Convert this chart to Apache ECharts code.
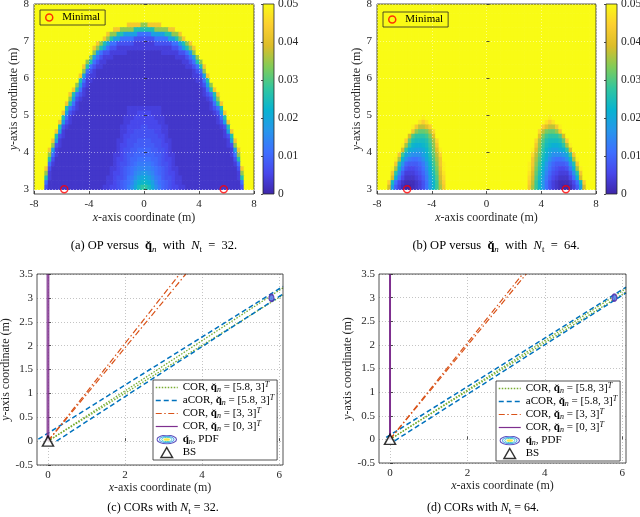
<!DOCTYPE html>
<html>
<head>
<meta charset="utf-8">
<script src="https://cdn.jsdelivr.net/npm/echarts@6.0.0/dist/echarts.min.js"></script>
<style>
html,body{margin:0;padding:0;background:#ffffff;}
#chart{width:640px;height:517px;}
</style>
</head>
<body>
<div id="chart"></div>
<script>
// ======================= DATA =======================
// Heat-map cell grid (x: -8..8 step 0.25, y: 8..3 step 0.125, rows listed top -> bottom)
const cellW = 0.25, cellH = 0.125;
const cellX = []; for (let j = 0; j < 64; j++) cellX.push(-7.875 + j * cellW);
const cellY = []; for (let i = 0; i < 40; i++) cellY.push(7.9375 - i * cellH);
// OP level per cell, run-length coded: <level char base36><count>; value = level/35*0.05
const opA_rows = [
'z64','z64','z64','z64',
'z27 u4 o2 u4 z27',
'z23 u2 o4 i6 o4 u2 z23',
'z21 u1 o2 i2 d4 84 d4 i2 o2 u1 z21',
'z20 u1 o1 i1 d2 84 56 84 d2 i1 o1 u1 z20',
'z18 u1 o1 i1 d1 82 55 36 55 82 d1 i1 o1 u1 z18',
'z17 u1 o1 i1 d1 81 52 316 52 81 d1 i1 o1 u1 z17',
'z17 o1 d1 81 52 35 210 35 52 81 d1 o1 z17',
'z16 o1 d1 81 51 33 218 33 51 81 d1 o1 z16',
'z15 o1 i1 81 51 32 222 32 51 81 i1 o1 z15',
'z14 u1 i1 81 51 32 224 32 51 81 i1 u1 z14',
'z14 o1 81 51 31 228 31 51 81 o1 z14',
'z13 u1 d1 51 32 228 32 51 d1 u1 z13',
'z13 i1 81 32 230 32 81 i1 z13',
'z12 o1 d1 51 31 232 31 51 d1 o1 z12',
'z11 u1 i1 81 31 234 31 81 i1 u1 z11',
'z10 u1 i1 81 51 31 234 31 51 81 i1 u1 z10',
'z10 o1 d1 51 31 236 31 51 d1 o1 z10',
'z9 u1 i1 81 31 238 31 81 i1 u1 z9',
'z9 i1 81 51 31 214 310 214 31 51 81 i1 z9',
'z8 u1 d1 51 31 215 33 44 33 215 31 51 d1 u1 z8',
'z8 i1 81 31 215 33 46 33 215 31 81 i1 z8',
'z7 u1 d1 51 31 215 32 48 32 215 31 51 d1 u1 z7',
'z7 i1 51 31 215 32 44 52 44 32 215 31 51 i1 z7',
'z6 u1 d1 31 216 32 42 56 42 32 216 31 d1 u1 z6',
'z6 i1 51 31 216 31 42 58 42 31 216 31 51 i1 z6',
'z5 u1 d1 31 216 32 41 53 64 53 41 32 216 31 d1 u1 z5',
'z5 o1 51 31 216 31 42 52 66 52 42 31 216 31 51 o1 z5',
'z4 u1 d1 31 217 31 41 52 62 74 62 52 41 31 217 31 d1 u1 z4',
'z4 o1 81 31 216 32 41 51 62 76 62 51 41 32 216 31 81 o1 z4',
'z4 i1 51 217 31 42 51 61 72 84 72 61 51 42 31 217 51 i1 z4',
'z4 81 31 217 31 41 52 61 71 81 94 81 71 61 52 41 31 217 31 81 z4',
'z3 u1 51 217 32 41 51 61 71 81 91 a4 91 81 71 61 51 41 32 217 51 u1 z3',
'z3 o1 31 217 31 42 51 61 71 81 a1 b1 c2 b1 a1 81 71 61 51 42 31 217 31 o1 z3',
'z3 i1 31 216 32 41 52 61 81 91 b1 d1 e2 d1 b1 91 81 61 52 41 32 216 31 i1 z3',
'z3 81 217 32 41 51 61 71 81 a1 d1 f1 g2 f1 d1 a1 81 71 61 51 41 32 217 81 z3',
'z3 51 216 32 42 51 61 71 91 b1 e1 h1 j2 h1 e1 b1 91 71 61 51 42 32 216 51 z3'
];
const opB_rows = [
'z64','z64','z64','z64','z64','z64','z64','z64','z64','z64','z64','z64',
'z64','z64','z64','z64','z64','z64','z64','z64','z64','z64','z64','z64',
'z13 y1 z36 y1 z13',
'z12 x1 v1 x1 z34 x1 v1 x1 z12',
'z10 y1 u1 q2 s1 v1 z32 v1 s1 q2 u1 y1 z10',
'z10 u1 o1 m2 n1 q1 w1 z30 w1 q1 n1 m2 o1 u1 z10',
'z9 r1 l1 j3 k1 n1 s1 z30 s1 n1 k1 j3 l1 r1 z9',
'z8 v1 m1 i1 h3 i1 l1 p1 w1 z28 w1 p1 l1 i1 h3 i1 m1 v1 z8',
'z7 y1 p1 j1 g1 f2 g1 h1 k1 o1 u1 z28 u1 o1 k1 h1 g1 f2 g1 j1 p1 y1 z7',
'z7 r1 j1 f1 e1 d2 e1 g1 j1 n1 s1 y1 z26 y1 s1 n1 j1 g1 e1 d2 e1 f1 j1 r1 z7',
'z6 u1 k1 e1 c1 b3 d1 f1 i1 m1 q1 w1 z26 w1 q1 m1 i1 f1 d1 b3 c1 e1 k1 u1 z6',
'z5 y1 p1 g1 b1 91 82 91 b1 e1 h1 l1 p1 u1 z26 u1 p1 l1 h1 e1 b1 91 82 91 b1 g1 p1 y1 z5',
'z5 u1 i1 c1 71 63 71 91 c1 g1 k1 o1 u1 y1 z24 y1 u1 o1 k1 g1 c1 91 71 63 71 c1 i1 u1 z5',
'z4 y1 p1 f1 91 51 42 51 61 81 b1 f1 j1 n1 t1 y1 z24 y1 t1 n1 j1 f1 b1 81 61 51 42 51 91 f1 p1 y1 z4',
'z4 u1 j1 b1 61 33 41 51 71 a1 e1 i1 m1 s1 x1 z24 x1 s1 m1 i1 e1 a1 71 51 41 33 61 b1 j1 u1 z4',
'z4 r1 f1 81 41 23 31 41 61 91 d1 h1 l1 r1 w1 z24 w1 r1 l1 h1 d1 91 61 41 31 23 41 81 f1 r1 z4',
'z3 v1 h1 81 41 21 13 21 31 51 81 c1 g1 k1 q1 v1 z24 v1 q1 k1 g1 c1 81 51 31 21 13 21 41 81 h1 v1 z3',
'z3 r1 d1 61 31 11 02 11 21 31 51 81 c1 g1 k1 p1 u1 z24 u1 p1 k1 g1 c1 81 51 31 21 11 02 11 31 61 d1 r1 z3'
];
const minimalPts = [[-5.8, 3], [5.8, 3]];
const colorbarRange = [0, 0, 1, 0.05];
const heatYTicks = [3, 4, 5, 6, 7, 8];
const corXTicks = [0, 2, 4, 6];

// (c) N_t = 32
const c_cor58_up = [[0, 0], [6.1, 3.21]];
const c_cor58_lo = [[0, 0], [6.1, 3.06]];
const c_acor58_up = [[-0.25, 0.04], [6.1, 3.24]];
const c_acor58_lo = [[0.22, 0.0], [6.1, 3.08]];
const c_cor33_up = [[0, 0], [3.42, 3.5]];
const c_cor33_lo = [[0, 0], [3.58, 3.5]];
const c_cor03_l = [[-0.02, 0], [-0.02, 3.5]];
const c_cor03_r = [[0.02, 0], [0.02, 3.5]];
const c_pdf = [[5.8, 3]];
const c_bs = [[0, 0]];
// (d) N_t = 64
const d_cor58_up = [[0, 0], [6.1, 3.19]];
const d_cor58_lo = [[0, 0], [6.1, 3.12]];
const d_acor58_up = [[-0.1, 0.04], [6.1, 3.22]];
const d_acor58_lo = [[0.12, -0.03], [6.1, 3.1]];
const d_cor33_up = [[0, 0], [3.43, 3.5]];
const d_cor33_lo = [[0, 0], [3.52, 3.5]];
const d_cor03_l = [[-0.01, 0], [-0.01, 3.5]];
const d_cor03_r = [[0.01, 0], [0.01, 3.5]];
const d_pdf = [[5.8, 3]];
const d_bs = [[0, 0]];

// ======================= STYLE =======================
const FONT = "'Liberation Serif','Times New Roman',serif";
const TXT = '#262626';
const PARULA = ['#3E26A8','#4847EB','#3E6FFF','#2796EB','#08B4D0','#31C69F','#80CC59','#DCBD29','#FCCF30','#F9FB15'];
const PAR_RGB = PARULA.map(h => [parseInt(h.substr(1,2),16), parseInt(h.substr(3,2),16), parseInt(h.substr(5,2),16)]);
function parula(v) {
  let t = Math.max(0, Math.min(1, v / 0.05)) * (PAR_RGB.length - 1);
  const i = Math.min(PAR_RGB.length - 2, Math.floor(t)); const f = t - i;
  const a = PAR_RGB[i], b = PAR_RGB[i + 1];
  return 'rgb(' + [0,1,2].map(k => Math.round(a[k] + (b[k] - a[k]) * f)).join(',') + ')';
}
function decodeRLE(row) {
  let s = '';
  row.split(' ').forEach(tok => { s += tok[0].repeat(parseInt(tok.slice(1), 10)); });
  return s;
}
function heatData(rows) {
  const out = [];
  rows.forEach((row, i) => {
    const s = decodeRLE(row);
    for (let j = 0; j < s.length && j < 64; j++) out.push([cellX[j], cellY[i], parseInt(s[j], 36) / 35 * 0.05]);
  });
  return out;
}
function renderCell(params, api) {
  const x = api.value(0), y = api.value(1), v = api.value(2);
  const a = api.coord([x - cellW / 2, y + cellH / 2]);
  const b = api.coord([x + cellW / 2, y - cellH / 2]);
  return { type: 'rect', shape: { x: a[0], y: a[1], width: b[0] - a[0] + 0.7, height: b[1] - a[1] + 0.6 },
           style: { fill: parula(v) } };
}
function renderColorbar(params, api) {
  const a = api.coord([api.value(0), api.value(3)]);
  const b = api.coord([api.value(2), api.value(1)]);
  return { type: 'rect', shape: { x: a[0], y: a[1], width: b[0] - a[0], height: b[1] - a[1] },
    style: { fill: new echarts.graphic.LinearGradient(0, 1, 0, 0,
      PARULA.map((c, i) => ({ offset: i / (PARULA.length - 1), color: c }))), stroke: TXT, lineWidth: 0.8 } };
}

const nameStyle = { fontFamily: FONT, fontSize: 12, color: TXT,
  rich: { i: { fontFamily: FONT, fontSize: 12, fontStyle: 'italic', color: TXT } } };
const labelStyle = { fontFamily: FONT, fontSize: 11, color: TXT };

function heatXAxis(gi) {
  return { type: 'value', gridIndex: gi, min: -8, max: 8, interval: 4, z: 6,
    axisLine: { show: false },
    axisTick: { show: true, inside: true, length: 3, lineStyle: { color: TXT, width: 0.8 } },
    axisLabel: Object.assign({ margin: 5 }, labelStyle),
    splitLine: { show: true, lineStyle: { color: 'rgba(255,255,255,0.45)', type: [1, 2], width: 1 } },
    name: '{i|x}-axis coordinate (m)', nameLocation: 'middle', nameGap: 18, nameTextStyle: nameStyle };
}
function heatYAxis(gi) {
  return { type: 'value', gridIndex: gi, min: 2.875, max: 8, z: 6,
    axisLine: { show: false },
    axisTick: { show: true, inside: true, length: 3, customValues: heatYTicks, lineStyle: { color: TXT, width: 0.8 } },
    axisLabel: Object.assign({ margin: 5, customValues: heatYTicks }, labelStyle),
    splitLine: { show: true, lineStyle: { color: 'rgba(255,255,255,0.45)', type: [1, 2], width: 1 } },
    name: '{i|y}-axis coordinate (m)', nameLocation: 'middle', nameGap: 12, nameTextStyle: nameStyle };
}
function cbXAxis(gi) { return { type: 'value', gridIndex: gi, min: 0, max: 1, show: false }; }
function cbYAxis(gi) {
  return { type: 'value', gridIndex: gi, min: 0, max: 0.05, interval: 0.01, position: 'right', z: 6,
    axisLine: { show: false }, splitLine: { show: false },
    axisTick: { show: true, inside: true, length: 2, lineStyle: { color: TXT, width: 0.8 } },
    axisLabel: Object.assign({ margin: 4 }, labelStyle, { fontSize: 11.5 }) };
}
function corXAxis(gi) {
  return { type: 'value', gridIndex: gi, min: -0.285, max: 6.1, splitNumber: 3,
    axisLine: { show: false },
    axisTick: { show: true, inside: true, length: 3, customValues: corXTicks, lineStyle: { color: TXT, width: 0.8 } },
    axisLabel: Object.assign({ margin: 5, customValues: corXTicks }, labelStyle),
    splitLine: { show: true, lineStyle: { color: '#c4c4c4', type: [1, 2], width: 1 } },
    name: '{i|x}-axis coordinate (m)', nameLocation: 'middle', nameGap: 17, nameTextStyle: nameStyle };
}
function corYAxis(gi, gap) {
  return { type: 'value', gridIndex: gi, min: -0.5, max: 3.5, interval: 0.5,
    axisLine: { show: false },
    axisTick: { show: true, inside: true, length: 3, lineStyle: { color: TXT, width: 0.8 } },
    axisLabel: Object.assign({ margin: 4 }, labelStyle),
    splitLine: { show: true, lineStyle: { color: '#c4c4c4', type: [1, 2], width: 1 } },
    name: '{i|y}-axis coordinate (m)', nameLocation: 'middle', nameGap: gap, nameTextStyle: nameStyle };
}

const C_GREEN = '#77AC30', C_BLUE = '#0072BD', C_ORANGE = '#D95319', C_PURPLE = '#7E2F8E';
const DOT = [1.5, 1.5], DASH = [5, 3], DASHDOT = [6, 2.5, 1.5, 2.5];
function lineS(name, data, color, type, width, ai) {
  return { type: 'line', name, data, xAxisIndex: ai, yAxisIndex: ai, symbol: 'none', clip: true, silent: true,
    animation: false, lineStyle: { color, type, width }, itemStyle: { color }, z: 3 };
}
function corSeries(sfx, ai, D) {
  return [
    lineS('cor58_' + sfx, D.cor58_up, C_GREEN, DOT, 1.3, ai),
    lineS('cor58_' + sfx, D.cor58_lo, C_GREEN, DOT, 1.3, ai),
    lineS('acor58_' + sfx, D.acor58_up, C_BLUE, DASH, 1.5, ai),
    lineS('acor58_' + sfx, D.acor58_lo, C_BLUE, DASH, 1.5, ai),
    lineS('cor33_' + sfx, D.cor33_up, C_ORANGE, DASHDOT, 1.2, ai),
    lineS('cor33_' + sfx, D.cor33_lo, C_ORANGE, DASHDOT, 1.2, ai),
    lineS('cor03_' + sfx, D.cor03_l, C_PURPLE, 'solid', 1.2, ai),
    lineS('cor03_' + sfx, D.cor03_r, C_PURPLE, 'solid', 1.2, ai),
    { type: 'scatter', name: 'pdf_' + sfx, data: D.pdf, xAxisIndex: ai, yAxisIndex: ai, symbol: 'circle',
      symbolSize: [5, 7], itemStyle: { color: '#3f6ee6', borderColor: '#5b2ca8', borderWidth: 1.3 }, z: 5, silent: true },
    { type: 'scatter', name: 'bs_' + sfx, data: D.bs, xAxisIndex: ai, yAxisIndex: ai, symbol: 'triangle',
      symbolSize: [11, 10], itemStyle: { color: '#ffffff', borderColor: '#000000', borderWidth: 1.5 }, z: 6, silent: true, clip: false }
  ];
}
const LEG = {
  cor58: 'COR, {b|q\u030C}{s|n} = [5.8, 3]{T|T}',
  acor58: 'aCOR, {b|q\u030C}{s|n} = [5.8, 3]{T|T}',
  cor33: 'COR, {b|q\u030C}{s|n} = [3, 3]{T|T}',
  cor03: 'COR, {b|q\u030C}{s|n} = [0, 3]{T|T}',
  pdf: '{b|q\u0301}{s|n}, PDF',
  bs: 'BS'
};
const LEG_RICH = {
  b: { fontFamily: FONT, fontSize: 11, fontWeight: 'bold', color: '#000', lineHeight: 13 },
  s: { fontFamily: FONT, fontSize: 8, fontStyle: 'italic', color: '#000', lineHeight: 6, verticalAlign: 'bottom' },
  T: { fontFamily: FONT, fontSize: 8, fontStyle: 'italic', color: '#000', lineHeight: 6, verticalAlign: 'top' }
};
const PDF_SVG = "<svg xmlns='http://www.w3.org/2000/svg' width='46' height='22' viewBox='0 0 46 22'>" +
  "<ellipse cx='23' cy='11' rx='21.5' ry='9.5' fill='none' stroke='#3f2fb0' stroke-width='2.6'/>" +
  "<ellipse cx='23' cy='11' rx='16' ry='6.8' fill='none' stroke='#2b8fe8' stroke-width='2.4'/>" +
  "<ellipse cx='23' cy='11' rx='11' ry='4.6' fill='none' stroke='#1fc0b8' stroke-width='2.2'/>" +
  "<ellipse cx='23' cy='11' rx='7' ry='2.9' fill='#f2e41c'/></svg>";
const PDF_ICON = 'image://data:image/svg+xml;charset=utf-8,' + encodeURIComponent(PDF_SVG);
function corLegend(sfx, left, top) {
  return { show: true, orient: 'vertical', left, top, padding: [1, 3, 1, 2], itemGap: 0, itemWidth: 22, itemHeight: 10,
    backgroundColor: '#ffffff', borderColor: TXT, borderWidth: 0.8, borderRadius: 0, selectedMode: false,
    textStyle: { fontFamily: FONT, fontSize: 11, color: '#000', lineHeight: 13, rich: LEG_RICH },
    formatter: n => LEG[n.split('_')[0]],
    data: [
      { name: 'cor58_' + sfx, itemStyle: { opacity: 0 }, lineStyle: { width: 1.3 } },
      { name: 'acor58_' + sfx, itemStyle: { opacity: 0 }, lineStyle: { width: 1.5 } },
      { name: 'cor33_' + sfx, itemStyle: { opacity: 0 }, lineStyle: { width: 1.2 } },
      { name: 'cor03_' + sfx, itemStyle: { opacity: 0 }, lineStyle: { width: 1.2 } },
      { name: 'pdf_' + sfx, icon: PDF_ICON },
      { name: 'bs_' + sfx, icon: 'path://M6,0 L12,10.4 L0,10.4 Z', itemStyle: { color: '#ffffff', borderColor: '#000', borderWidth: 1.5 } }
    ] };
}
function minLegend(name, left, top) {
  return { show: true, orient: 'vertical', left, top, padding: [2, 5, 2, 5], itemWidth: 16, itemHeight: 7,
    backgroundColor: 'transparent', borderColor: TXT, borderWidth: 0.8, selectedMode: false,
    textStyle: { fontFamily: FONT, fontSize: 11, color: '#000' }, formatter: () => 'Minimal',
    data: [{ name, itemStyle: { color: 'rgba(0,0,0,0)', borderColor: '#ff0000', borderWidth: 1.5 } }] };
}
function capRich(fs) {
  return {
    b: { fontFamily: FONT, fontSize: fs, fontWeight: 'bold', fill: '#000', lineHeight: 16 },
    i: { fontFamily: FONT, fontSize: fs, fontStyle: 'italic', fill: '#000', lineHeight: 16 },
    s: { fontFamily: FONT, fontSize: 9, fontStyle: 'italic', fill: '#000', lineHeight: 8, verticalAlign: 'bottom' },
    t: { fontFamily: FONT, fontSize: 9, fill: '#000', lineHeight: 8, verticalAlign: 'bottom' }
  };
}
function caption(text, x, y, fs) {
  return { type: 'text', x, y, silent: true,
    style: { text, fontFamily: FONT, fontSize: fs, fill: '#000', align: 'center', verticalAlign: 'middle', lineHeight: 16, rich: capRich(fs) } };
}

const heatGrid = (left, width) => ({ left, top: 4, width, height: 190, show: true, borderColor: TXT, borderWidth: 0.8,
  backgroundColor: 'rgba(0,0,0,0)', z: 5, containLabel: false, outerBoundsMode: 'none' });

const option = {
  animation: false,
  backgroundColor: '#ffffff',
  textStyle: { fontFamily: FONT },
  grid: [
    heatGrid(34, 220),
    { left: 263, top: 4, width: 11, height: 190, show: false, containLabel: false, outerBoundsMode: 'none' },
    heatGrid(377, 219),
    { left: 606, top: 4, width: 11, height: 190, show: false, containLabel: false, outerBoundsMode: 'none' },
    { left: 37, top: 274, width: 246, height: 191, show: true, borderColor: TXT, borderWidth: 0.8, z: 5, containLabel: false, outerBoundsMode: 'none' },
    { left: 379, top: 274, width: 247, height: 189, show: true, borderColor: TXT, borderWidth: 0.8, z: 5, containLabel: false, outerBoundsMode: 'none' }
  ],
  xAxis: [heatXAxis(0), cbXAxis(1), heatXAxis(2), cbXAxis(3), corXAxis(4), corXAxis(5)],
  yAxis: [heatYAxis(0), cbYAxis(1), heatYAxis(2), cbYAxis(3), corYAxis(4, 20), corYAxis(5, 18)],
  legend: [
    minLegend('minA', 40, 10),
    minLegend('minB', 383, 12),
    corLegend('c', 153, 380),
    corLegend('d', 496, 381)
  ],
  series: [
    { type: 'custom', name: 'opA', xAxisIndex: 0, yAxisIndex: 0, data: heatData(opA_rows), renderItem: renderCell,
      clip: true, silent: true, z: 1, encode: { x: 0, y: 1 } },
    { type: 'scatter', name: 'minA', xAxisIndex: 0, yAxisIndex: 0, data: minimalPts, symbol: 'circle', symbolSize: 7,
      itemStyle: { color: 'rgba(0,0,0,0)', borderColor: '#ff0000', borderWidth: 1.5 }, clip: false, silent: true, z: 7 },
    { type: 'custom', name: 'cbA', xAxisIndex: 1, yAxisIndex: 1, data: [colorbarRange], renderItem: renderColorbar, silent: true },
    { type: 'custom', name: 'opB', xAxisIndex: 2, yAxisIndex: 2, data: heatData(opB_rows), renderItem: renderCell,
      clip: true, silent: true, z: 1, encode: { x: 0, y: 1 } },
    { type: 'scatter', name: 'minB', xAxisIndex: 2, yAxisIndex: 2, data: minimalPts, symbol: 'circle', symbolSize: 7,
      itemStyle: { color: 'rgba(0,0,0,0)', borderColor: '#ff0000', borderWidth: 1.5 }, clip: false, silent: true, z: 7 },
    { type: 'custom', name: 'cbB', xAxisIndex: 3, yAxisIndex: 3, data: [colorbarRange], renderItem: renderColorbar, silent: true }
  ].concat(
    corSeries('c', 4, { cor58_up: c_cor58_up, cor58_lo: c_cor58_lo, acor58_up: c_acor58_up, acor58_lo: c_acor58_lo,
      cor33_up: c_cor33_up, cor33_lo: c_cor33_lo, cor03_l: c_cor03_l, cor03_r: c_cor03_r, pdf: c_pdf, bs: c_bs }),
    corSeries('d', 5, { cor58_up: d_cor58_up, cor58_lo: d_cor58_lo, acor58_up: d_acor58_up, acor58_lo: d_acor58_lo,
      cor33_up: d_cor33_up, cor33_lo: d_cor33_lo, cor03_l: d_cor03_l, cor03_r: d_cor03_r, pdf: d_pdf, bs: d_bs })
  ),
  graphic: [
    caption('(a) OP versus  {b|q\u030C}{s|n}  with  {i|N}{t|t}  =  32.', 154, 246, 12.5),
    caption('(b) OP versus  {b|q\u030C}{s|n}  with  {i|N}{t|t}  =  64.', 496, 246, 12.5),
    caption('(c) CORs with {i|N}{t|t} = 32.', 163, 508, 12),
    caption('(d) CORs with {i|N}{t|t} = 64.', 483, 508, 12)
  ]
};
const chart = echarts.init(document.getElementById('chart'), null, { renderer: 'canvas' });
chart.setOption(option);
</script>
</body>
</html>
